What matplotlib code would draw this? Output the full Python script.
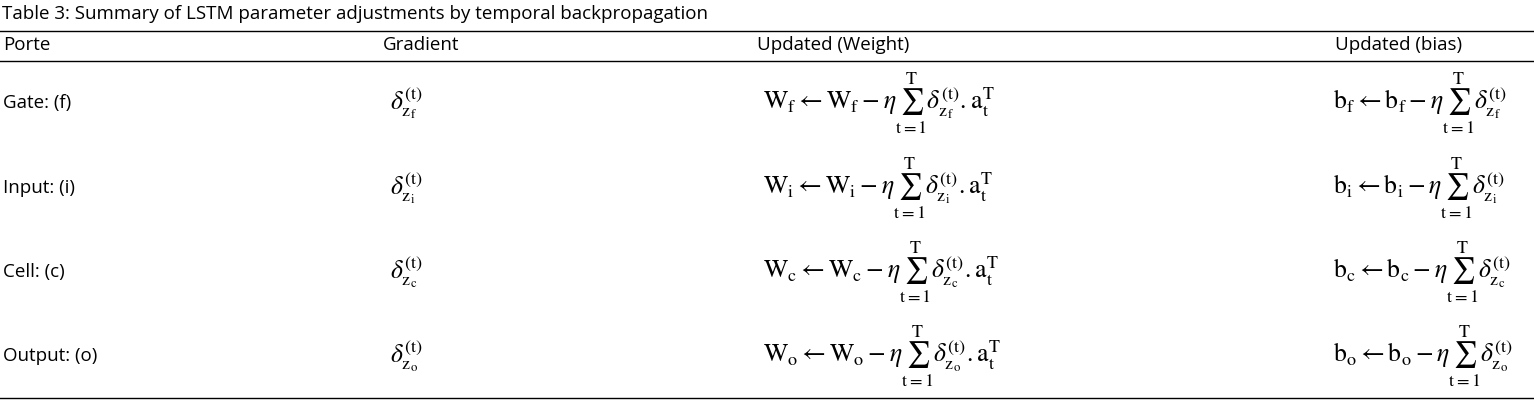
import matplotlib
matplotlib.use("Agg")
import matplotlib.pyplot as plt

plt.rcParams['mathtext.fontset'] = 'stix'
plt.rcParams['font.family'] = ['Open Sans', 'DejaVu Sans']

title = "Table 3: Summary of LSTM parameter adjustments by temporal backpropagation"
headers = ["Porte", "Gradient", "Updated (Weight)", "Updated (bias)"]
gates = ["Gate: (f)", "Input: (i)", "Cell: (c)", "Output: (o)"]
subs = ["f", "i", "c", "o"]

W, H = 1534, 403
fig = plt.figure(figsize=(W/100, H/100), dpi=100)
ax = fig.add_axes([0, 0, 1, 1])
ax.set_xlim(0, W); ax.set_ylim(H, 0); ax.axis('off')

fs = 13.5
ax.text(2, 14, title, fontsize=fs, va='center', ha='left')
for y in (31, 61, 398):
    ax.plot([0, W], [y, y], color='black', lw=1.0)
hx = [3, 383, 757, 1335]
for x, h in zip(hx, headers):
    ax.text(x, 45, h, fontsize=fs, va='center', ha='left')

rows_y = [103, 188, 272, 356]
mfs = 18.5
for y, g, s in zip(rows_y, gates, subs):
    ax.text(3, y, g, fontsize=fs, va='center', ha='left')
    ax.text(390, y, r"$\delta_{\mathrm{z_{%s}}}^{(\mathrm{t})}$" % s, fontsize=mfs, va='center', ha='left')
    ax.text(763, y, r"$\mathrm{W_{%s}} \leftarrow \mathrm{W_{%s}} - \eta\sum_{\mathrm{t=1}}^{\mathrm{T}}\delta_{\mathrm{z_{%s}}}^{(\mathrm{t})}.\mathrm{a}_{\mathrm{t}}^{\mathrm{T}}$" % (s, s, s),
            fontsize=mfs, va='center', ha='left')
    ax.text(1333, y, r"$\mathrm{b_{%s}} \leftarrow \mathrm{b_{%s}} - \eta\sum_{\mathrm{t=1}}^{\mathrm{T}}\delta_{\mathrm{z_{%s}}}^{(\mathrm{t})}$" % (s, s, s),
            fontsize=mfs, va='center', ha='left')

fig.savefig("out.png", dpi=100)
